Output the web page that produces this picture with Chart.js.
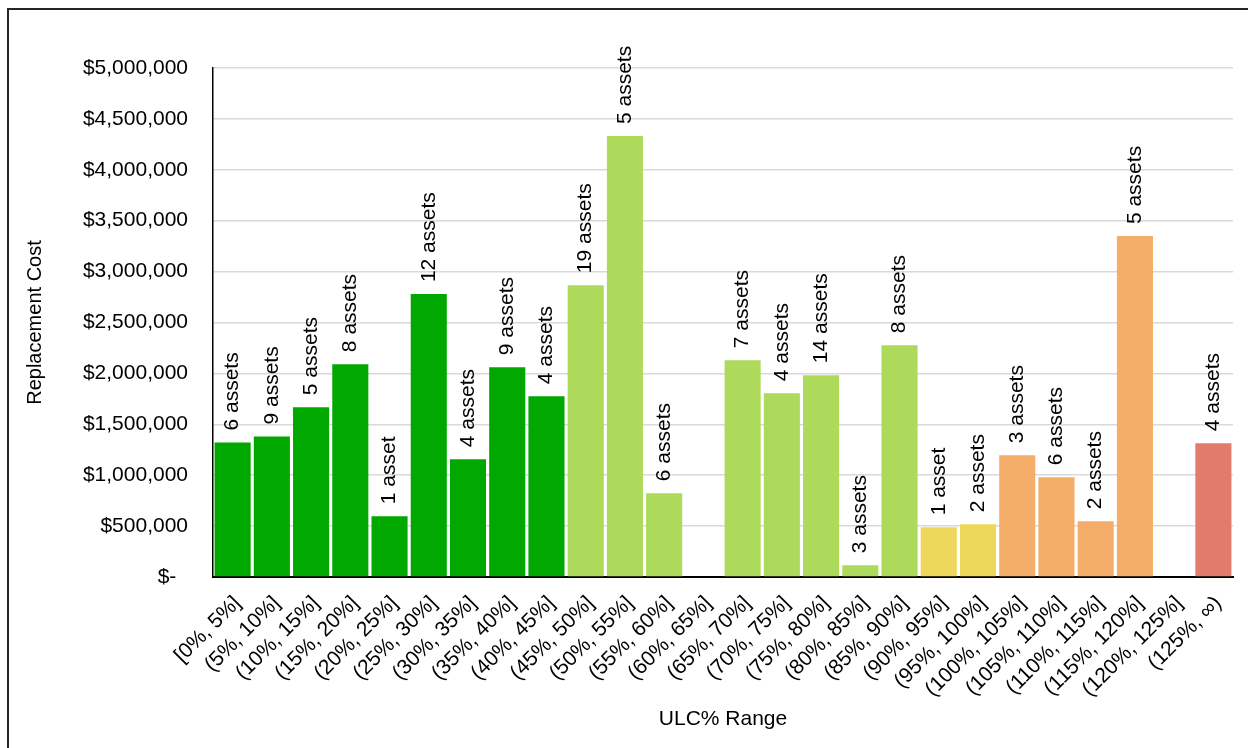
<!DOCTYPE html>
<html>
<head>
<meta charset="utf-8">
<title>Replacement Cost by ULC% Range</title>
<script src="https://cdn.jsdelivr.net/npm/chart.js@4.4.1/dist/chart.umd.min.js"></script>
<style>
  html, body { margin: 0; padding: 0; background: #ffffff; }
  #wrap { position: relative; width: 1248px; height: 748px; }
  canvas { display: block; }
</style>
</head>
<body>
<div id="wrap"><canvas id="chart" width="1248" height="748"></canvas></div>
<script>
// ULC% buckets shown along the x axis
const ulcRanges = [
  "[0%, 5%]", "(5%, 10%]", "(10%, 15%]", "(15%, 20%]", "(20%, 25%]",
  "(25%, 30%]", "(30%, 35%]", "(35%, 40%]", "(40%, 45%]", "(45%, 50%]",
  "(50%, 55%]", "(55%, 60%]", "(60%, 65%]", "(65%, 70%]", "(70%, 75%]",
  "(75%, 80%]", "(80%, 85%]", "(85%, 90%]", "(90%, 95%]", "(95%, 100%]",
  "(100%, 105%]", "(105%, 110%]", "(110%, 115%]", "(115%, 120%]", "(120%, 125%]",
  "(125%, \u221E)"
];

// Total replacement cost per bucket (USD)
const replacementCost = [
  1321000, 1380000, 1668000, 2091000, 597000,
  2779000, 1157000, 2061000, 1776000, 2867000,
  4332000, 823000, 0, 2130000, 1806000,
  1983000, 115000, 2277000, 488000, 518000,
  1196000, 980000, 547000, 3349000, 0,
  1314000
];

// Number of assets in each bucket
const assetCount = [
  6, 9, 5, 8, 1,
  12, 4, 9, 4, 19,
  5, 6, 0, 7, 4,
  14, 3, 8, 1, 2,
  3, 6, 2, 5, 0,
  4
];

// Condition band of each bucket
const conditionBand = [
  "good", "good", "good", "good", "good", "good", "good", "good", "good",
  "fair", "fair", "fair", "fair", "fair", "fair", "fair", "fair", "fair",
  "watch", "watch",
  "poor", "poor", "poor", "poor", "poor",
  "critical"
];

// Value axis ticks
const costTicks = [0, 500000, 1000000, 1500000, 2000000, 2500000, 3000000, 3500000, 4000000, 4500000, 5000000];

const bandColors = {
  good: "#00A800",
  fair: "#AEDA5B",
  watch: "#EDD85B",
  poor: "#F5AE6A",
  critical: "#E27B6B"
};

const FONT = "'Liberation Sans', Arial, Helvetica, sans-serif";

// Frame lines along the top and left edge
const framePlugin = {
  id: "frame",
  beforeDraw(chart) {
    const ctx = chart.ctx;
    ctx.save();
    ctx.fillStyle = "#ffffff";
    ctx.fillRect(0, 0, chart.width, chart.height);
    ctx.strokeStyle = "#262626";
    ctx.lineWidth = 2;
    ctx.beginPath();
    ctx.moveTo(8, chart.height + 2);
    ctx.lineTo(8, 9);
    ctx.lineTo(chart.width + 2, 9);
    ctx.stroke();
    ctx.restore();
  }
};

// Vertical "n assets" labels above each bar
const countLabelPlugin = {
  id: "countLabels",
  afterDatasetsDraw(chart) {
    const ctx = chart.ctx;
    const meta = chart.getDatasetMeta(0);
    ctx.save();
    ctx.font = "21px " + FONT;
    ctx.fillStyle = "#000000";
    ctx.textAlign = "left";
    ctx.textBaseline = "middle";
    meta.data.forEach((bar, i) => {
      const n = assetCount[i];
      if (!n) return;
      const text = n + (n === 1 ? " asset" : " assets");
      ctx.save();
      ctx.translate(bar.x, bar.y - 12);
      ctx.rotate(-Math.PI / 2);
      ctx.fillText(text, 0, 0);
      ctx.restore();
    });
    ctx.restore();
  }
};

new Chart(document.getElementById("chart"), {
  type: "bar",
  data: {
    labels: ulcRanges,
    datasets: [{
      label: "Replacement Cost",
      data: replacementCost,
      backgroundColor: conditionBand.map(b => bandColors[b]),
      borderWidth: 0,
      categoryPercentage: 1.0,
      barPercentage: 0.92
    }]
  },
  options: {
    responsive: false,
    animation: false,
    devicePixelRatio: 1,
    layout: { padding: { top: 68, right: 15, bottom: 0, left: 0 } },
    plugins: {
      legend: { display: false },
      tooltip: { enabled: false }
    },
    scales: {
      x: {
        grid: { display: false, drawTicks: false },
        border: { display: true, color: "#000000", width: 2 },
        ticks: {
          autoSkip: false,
          minRotation: 45,
          maxRotation: 45,
          padding: 14,
          labelOffset: 5,
          color: "#000000",
          font: { family: FONT, size: 21 }
        },
        title: {
          display: true,
          text: "ULC% Range",
          color: "#000000",
          font: { family: FONT, size: 21 },
          padding: { top: 0, bottom: 16 }
        },
        afterFit(scale) { scale.height = 171; }
      },
      y: {
        min: 0,
        max: 5000000,
        afterBuildTicks(scale) { scale.ticks = costTicks.map(v => ({ value: v })); },
        grid: { color: "#D9D9D9", lineWidth: 1.5, drawTicks: false },
        border: { display: true, color: "#000000", width: 1.5 },
        ticks: {
          padding: 25,
          color: "#000000",
          font: { family: FONT, size: 21 },
          callback(v) { return v === 0 ? "$-  " : "$" + Number(v).toLocaleString("en-US"); }
        },
        title: {
          display: true,
          text: "Replacement Cost",
          color: "#000000",
          font: { family: FONT, size: 20 },
          padding: { top: 23, bottom: 0 }
        },
        afterFit(scale) { scale.width = 213; }
      }
    }
  },
  plugins: [framePlugin, countLabelPlugin]
});
</script>
</body>
</html>
